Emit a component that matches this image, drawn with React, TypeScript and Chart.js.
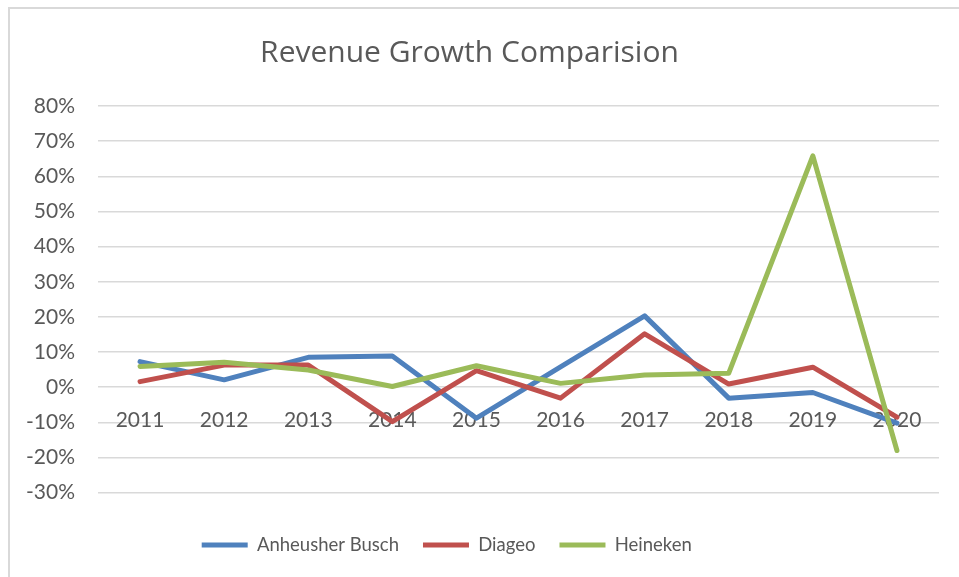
import React, { useEffect, useRef } from "react";
import { Chart, registerables } from "chart.js";

Chart.register(...registerables);

const years = ["2011", "2012", "2013", "2014", "2015", "2016", "2017", "2018", "2019", "2020"];
const anheuserBusch = [7.3, 2.1, 8.5, 8.9, -8.8, 5.8, 20.3, -3.1, -1.5, -10.2];
const diageo = [1.6, 6.3, 6.3, -9.8, 4.7, -3.1, 15.2, 0.9, 5.7, -8.5];
const heineken = [5.9, 7.1, 4.9, 0.2, 6.1, 1.1, 3.5, 4.0, 65.8, -18.0];
const seriesNames = ["Anheusher Busch", "Diageo", "Heineken"];
const seriesColors = ["#4F81BD", "#C0504D", "#9BBB59"];
const titleText = "Revenue Growth Comparision";
const yMin = -30;
const yMax = 80;
const yStep = 10;

const FONT = "Lato";
const TEXT = "#595959";

const placeBoxes = {
  id: "placeBoxes",
  afterLayout(chart: any) {
    const t = chart.titleBlock;
    if (t) {
      const w = t.right - t.left;
      const cx = 459.5;
      t.left = cx - w / 2;
      t.right = cx + w / 2;
    }
    const l = chart.legend;
    if (l) {
      const w = l.right - l.left;
      const startX = 191.7 - l.options.labels.padding;
      l.left = startX;
      l.right = startX + w;
    }
  },
};

export default function App() {
  const ref = useRef<HTMLCanvasElement>(null);
  useEffect(() => {
    if (!ref.current) return;
    const series = [anheuserBusch, diageo, heineken];
    const chart = new Chart(ref.current, {
      type: "line",
      data: {
        labels: years,
        datasets: series.map((d, i) => ({
          label: seriesNames[i],
          data: d,
          borderColor: seriesColors[i],
          backgroundColor: seriesColors[i],
          borderWidth: 5,
          pointRadius: 0,
          pointHoverRadius: 0,
          borderJoinStyle: "round" as const,
          borderCapStyle: "round" as const,
          tension: 0,
          fill: false,
          order: 3 - i,
        })),
      },
      options: {
        animation: false,
        responsive: true,
        maintainAspectRatio: false,
        layout: { padding: { left: 0, right: 20, top: 0, bottom: 12.75 } },
        plugins: {
          title: {
            display: true,
            text: titleText,
            color: TEXT,
            font: { family: "Open Sans", size: 30, weight: "normal" as const, lineHeight: 1.2 },
            padding: { top: 26, bottom: 35 },
          },
          legend: {
            position: "bottom",
            align: "start",
            title: {
              display: true,
              text: " ",
              font: { family: FONT, size: 10, lineHeight: 1.2 },
              padding: { top: 0, bottom: 7.05 },
            },
            labels: {
              usePointStyle: true,
              pointStyle: "line",
              pointStyleWidth: 46,
              padding: 24,
              color: TEXT,
              font: { family: FONT, size: 18.5 },
              sort: (a: any, b: any) => a.datasetIndex - b.datasetIndex,
            },
          },
          tooltip: { enabled: false },
        },
        scales: {
          x: {
            type: "category",
            position: { y: 0 } as any,
            offset: true,
            grid: { display: false, drawTicks: false },
            border: { display: false },
            ticks: {
              color: TEXT,
              font: { family: FONT, size: 21 },
              padding: 20,
              maxRotation: 0,
              autoSkip: false,
            },
          },
          y: {
            type: "linear",
            min: yMin,
            max: yMax,
            grid: { color: "#d9d9d9", lineWidth: 1.5, drawTicks: false },
            border: { display: false },
            ticks: {
              stepSize: yStep,
              color: TEXT,
              font: { family: FONT, size: 21 },
              padding: 23,
              callback: (v: any) => `${v}%`,
            },
            afterFit: (s: any) => {
              s.width = 88;
            },
          },
        },
      },
      plugins: [placeBoxes],
    });
    return () => chart.destroy();
  }, []);

  return (
    <div
      style={{
        position: "fixed",
        left: 8,
        top: 7,
        width: 951,
        height: 570,
        borderTop: "2px solid #d9d9d9",
        borderLeft: "2px solid #d9d9d9",
        boxSizing: "border-box",
        background: "#fff",
      }}
    >
      <div style={{ position: "relative", width: "100%", height: "100%" }}>
        <canvas ref={ref} />
      </div>
    </div>
  );
}
